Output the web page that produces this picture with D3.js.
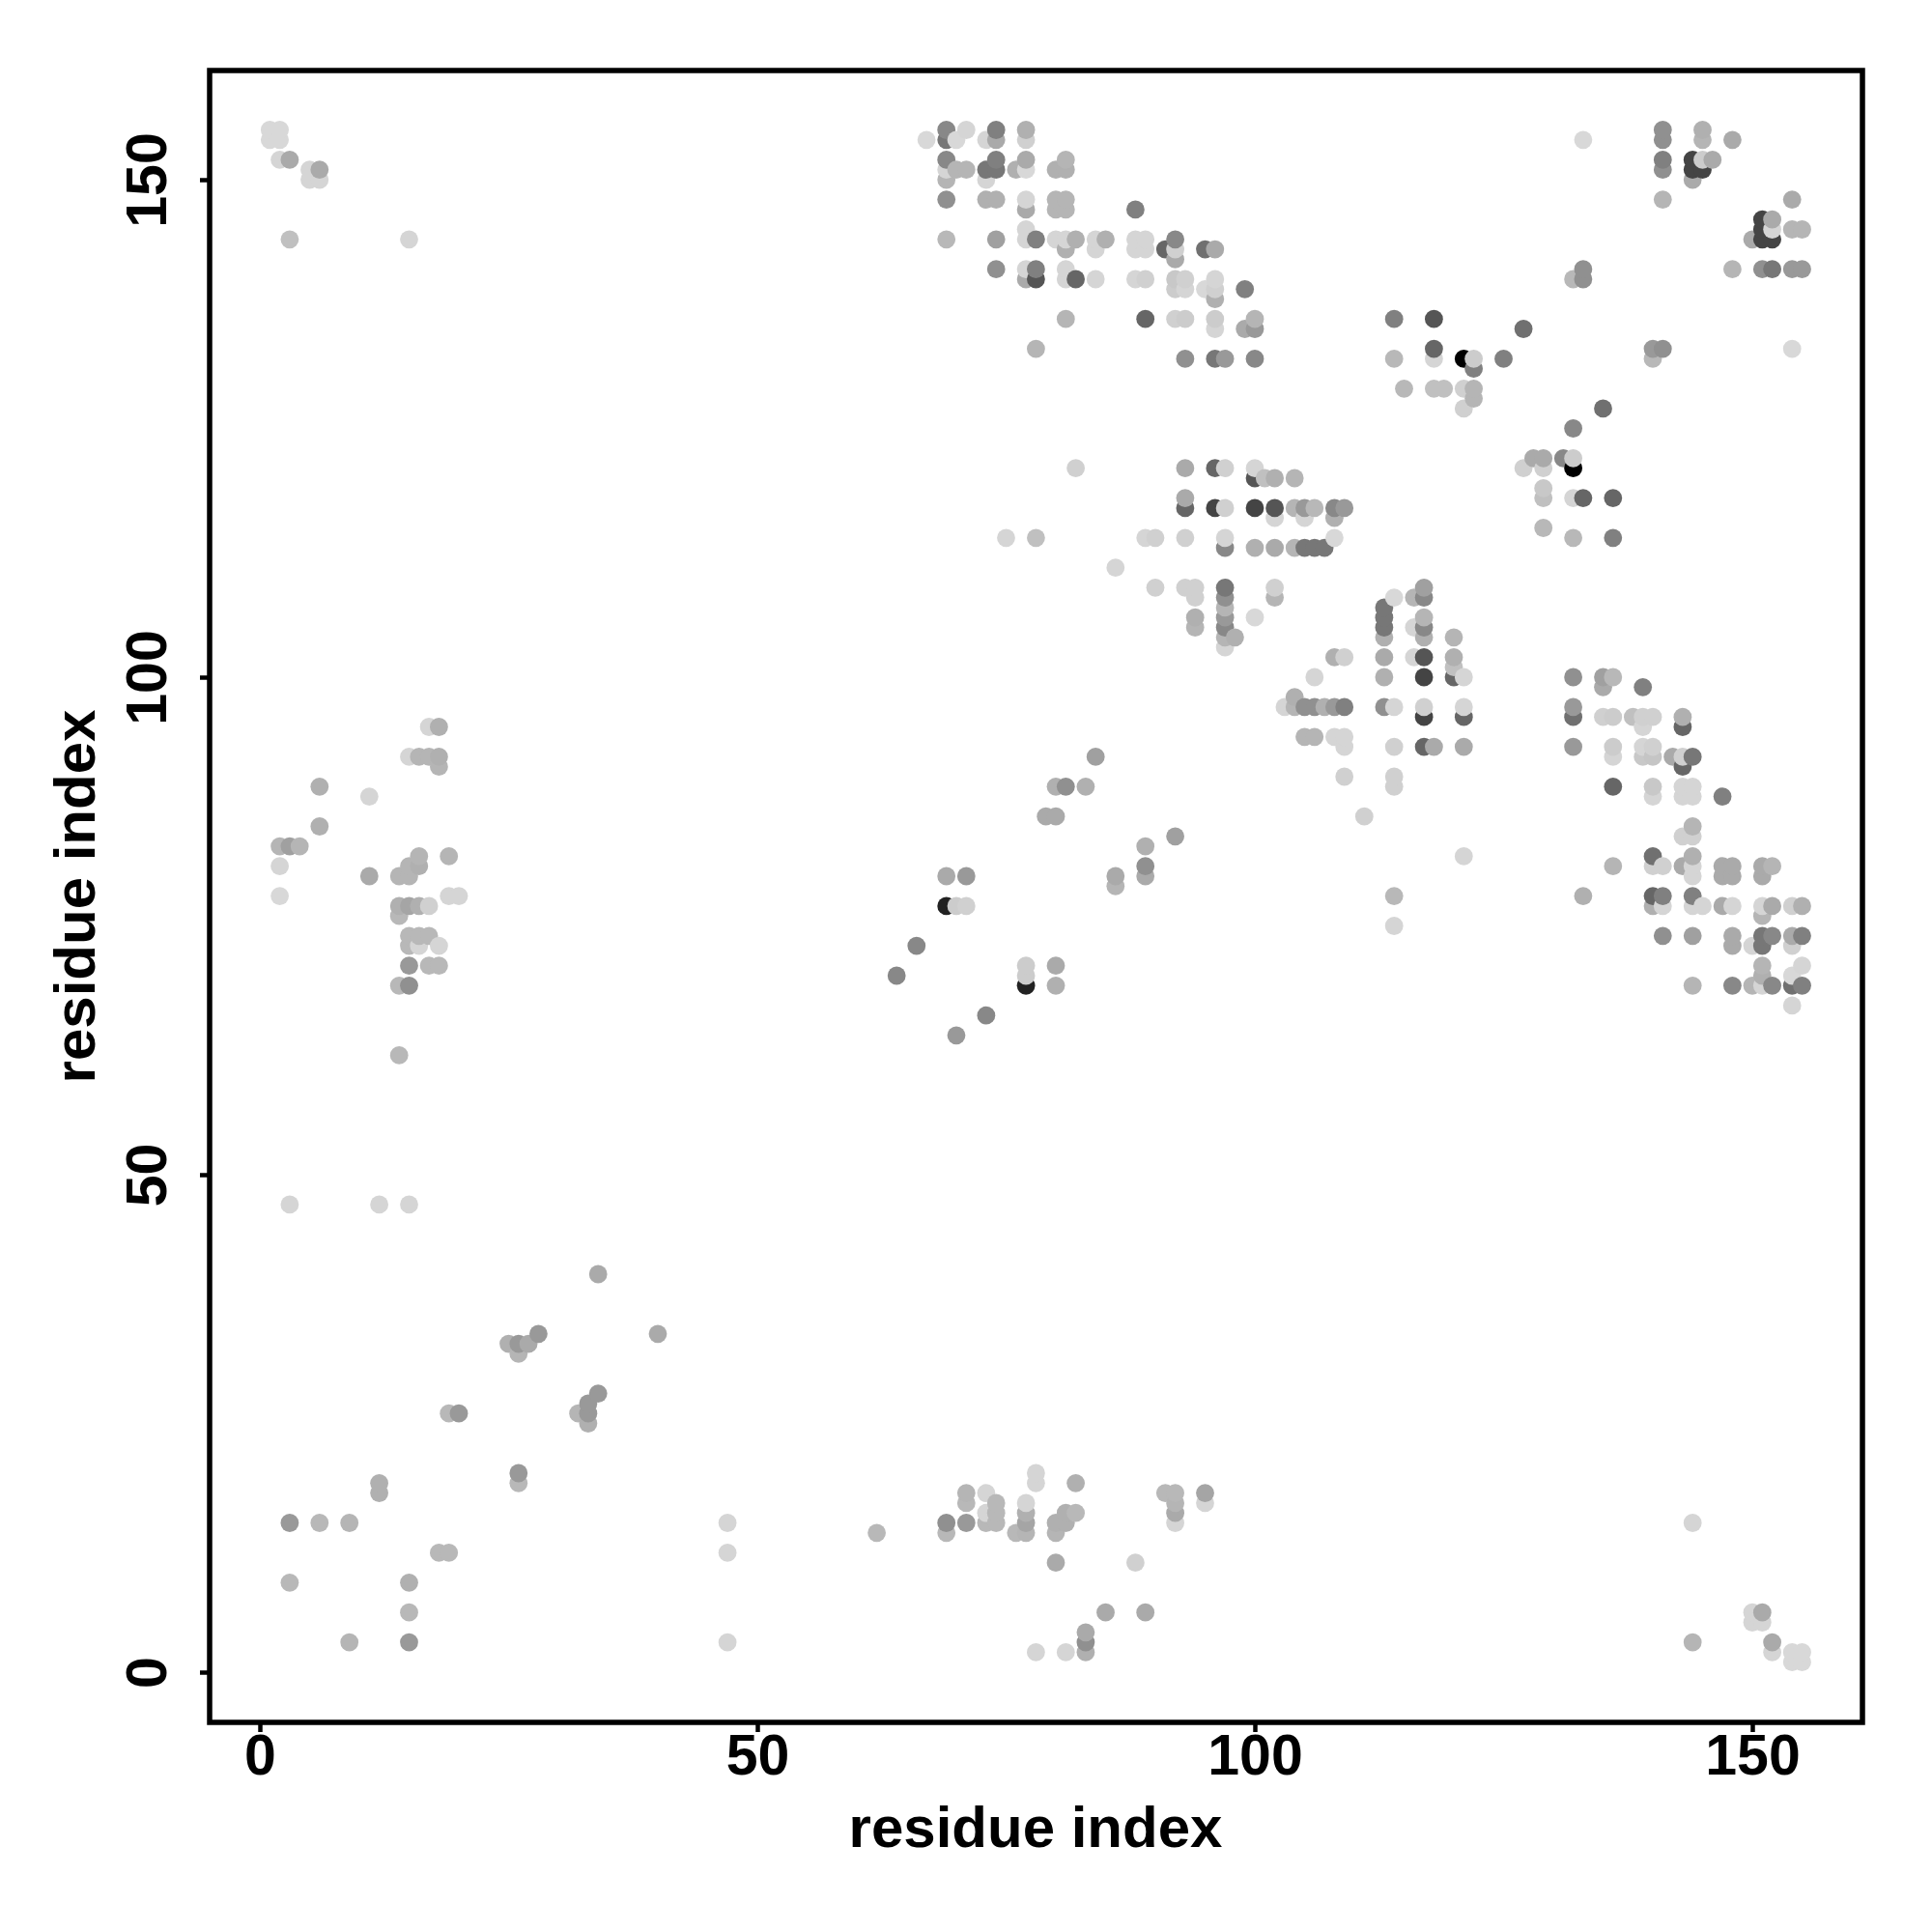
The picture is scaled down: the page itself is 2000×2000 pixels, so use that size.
<!DOCTYPE html>
<html><head><meta charset="utf-8">
<script src="https://cdn.jsdelivr.net/npm/d3@7"></script>
<style>html,body{margin:0;padding:0;background:#fff}svg{display:block}</style>
</head><body><svg id="c" width="2000" height="2000"></svg>
<script>
// each contact: [residue i, residue j, gray level]
const topMiddle = [
[69,155,0x88],[71,155,0xd5],[74,155,0x80],[77,155,0xb0],
[67,154,0xd8],[69,154,0x77],[70,154,0xd8],[73,154,0xd5],[74,154,0xaa],[77,154,0xd0],
[69,152,0x88],[74,152,0x80],[77,152,0xaa],[81,152,0xb5],
[69,151,0xd5],[70,151,0xb5],[71,151,0xb5],[73,151,0x77],[74,151,0x77],[76,151,0xb0],[77,151,0xd8],[80,151,0xb0],[81,151,0xb0],
[69,150,0xb5],[73,150,0xd5],
[69,148,0x90],[73,148,0xb0],[74,148,0xb0],[77,148,0xd5],[80,148,0xb5],[81,148,0xb5],
[77,147,0xaa],[80,147,0xb5],[81,147,0xb5],[88,147,0x80],
[77,145,0xd5],
[69,144,0xb8],[74,144,0xa0],[77,144,0xd5],[78,144,0x80],[80,144,0xd5],[81,144,0xd5],[82,144,0xb0],[84,144,0xd5],[85,144,0xb0],[88,144,0xd5],[89,144,0xd5],[92,144,0x88],
[81,143,0xb0],[84,143,0xd5],[88,143,0xd5],[89,143,0xd5],[91,143,0x66],[92,143,0xd0],[95,143,0x70],[96,143,0xaa],
[92,142,0xaa],
[74,141,0x90],[77,141,0xd5],[78,141,0x80],[81,141,0xd5],
[77,140,0xaa],[78,140,0x55],[81,140,0xd5],[82,140,0x66],[84,140,0xd5],[88,140,0xd5],[89,140,0xd0],[92,140,0xc8],[93,140,0xd0],[96,140,0xd5],
[92,139,0xcc],[93,139,0xd5],[95,139,0xd8],[96,139,0xd0],[99,139,0x80],
[96,138,0xb0],
[81,136,0xb5],[89,136,0x66],[92,136,0xd0],[93,136,0xcc],[96,136,0xcc],[100,136,0xb5],
[96,135,0xd5],[99,135,0xaa],[100,135,0x99],
[78,133,0xb5],
[93,132,0x90],[96,132,0x77],[97,132,0x99],[100,132,0x88]
];
const topRight = [
[141,155,0x90],[145,155,0xb0],
[133,154,0xd8],[141,154,0x90],[145,154,0xb5],[148,154,0xaa],
[141,152,0x80],[144,152,0x44],[145,152,0xcc],[146,152,0xaa],
[141,151,0x90],[144,151,0x44],[145,151,0x44],
[144,150,0xaa],
[141,148,0xb5],[154,148,0xaa],
[151,146,0x44],[152,146,0xaa],
[151,145,0x44],[152,145,0xd5],[154,145,0xb5],[155,145,0xb5],
[150,144,0xaa],[151,144,0x44],[152,144,0x44],
[133,141,0x90],[148,141,0xb5],[151,141,0x90],[152,141,0x77],[154,141,0x99],[155,141,0x99],
[132,140,0xb8],[133,140,0x90],
[140,133,0x99],[141,133,0x90],[154,133,0xd8],
[140,132,0xb8]
];
const midTopCluster = [
[114,136,0x80],[118,136,0x55],
[127,135,0x70],
[118,133,0x66],
[114,132,0xb8],[118,132,0xd5],[121,132,0x00],[122,132,0xcc],[125,132,0x80],
[122,131,0x80],
[115,129,0xb8],[118,129,0xc0],[119,129,0xc0],[121,129,0xd0],[122,129,0xb5],
[122,128,0xb5],
[121,127,0xd0],
[135,127,0x70],[132,125,0x88],
[128,122,0xaa],[129,122,0xaa],[131,122,0x88],[132,122,0xcc],
[127,121,0xd0],[129,121,0xd0],[132,121,0x00],
[129,119,0xc8],[129,118,0xc0],[132,118,0xd5],[133,118,0x66],[136,118,0x66],
[129,115,0xb8],[132,114,0xb8],[136,114,0x80]
];
const midBlock = [
[82,121,0xd0],
[93,121,0xaa],[96,121,0x66],[97,121,0xd0],[100,121,0xd5],
[100,120,0x55],[101,120,0xc0],[102,120,0xb0],[104,120,0xb5],
[93,118,0xaa],
[93,117,0x66],[96,117,0x44],[97,117,0xd0],[100,117,0x44],[102,117,0x55],[104,117,0xb5],[105,117,0x99],[106,117,0xb8],[108,117,0x88],[109,117,0x99],
[102,116,0xd5],[105,116,0xd5],[108,116,0xb0],
[75,114,0xd5],[78,114,0xc0],[89,114,0xd5],[90,114,0xd0],[93,114,0xd0],[97,114,0xd5],[108,114,0xd8],
[97,113,0x88],[100,113,0xb0],[102,113,0xaa],[104,113,0xb5],[105,113,0x77],[106,113,0x77],[107,113,0x77],
[86,111,0xd5],
[90,109,0xd0],[93,109,0xd0],[94,109,0xd0],[97,109,0x77],[102,109,0xd0],
[94,108,0xd0],[97,108,0x90],[102,108,0xb5],
[97,107,0xb5],
[94,106,0xb0],[97,106,0x99],[100,106,0xd8],
[94,105,0xb5],[97,105,0x88],
[97,104,0xb5],[98,104,0xb0],
[97,103,0xd5]
];
const centerBlock = [
[117,109,0xa0],
[114,108,0xd8],[116,108,0xb5],[117,108,0x88],
[113,107,0x77],[113,106,0x77],[117,106,0xb5],
[113,105,0x77],[116,105,0xd5],[117,105,0x88],
[113,104,0xb0],[117,104,0xb0],[120,104,0xb5],
[108,102,0xb0],[109,102,0xd0],[113,102,0xaa],[116,102,0xd5],[117,102,0x55],[120,102,0xb0],
[120,101,0xc0],
[106,100,0xd5],[113,100,0xb0],[117,100,0x44],[120,100,0x66],[121,100,0xd5],
[104,98,0xb0],
[103,97,0xd5],[104,97,0xb5],[105,97,0x90],[106,97,0x90],[107,97,0xb0],[108,97,0x99],[109,97,0x80],[113,97,0x90],[114,97,0xd5],[117,97,0xd0],[121,97,0xd5],
[117,96,0x44],[121,96,0x66],
[105,94,0xb5],[106,94,0xb5],[108,94,0xd5],[109,94,0xd5],
[109,93,0xd5],[114,93,0xd0],[117,93,0x66],[118,93,0xaa],[121,93,0xaa],
[109,90,0xd0],[114,90,0xd0],[114,89,0xd0],
[111,86,0xd0],[121,82,0xd5],[114,78,0xb8],[114,75,0xd5]
];
const lowerRight = [
[132,100,0x90],[135,100,0xa0],[136,100,0xb8],
[135,99,0xaa],[139,99,0x80],
[132,97,0x99],
[132,96,0x70],[135,96,0xd0],[136,96,0xcc],[138,96,0xc0],[139,96,0xd0],[140,96,0xd0],[143,96,0xb0],
[139,95,0xd5],[143,95,0x66],
[132,93,0x99],[136,93,0xcc],[139,93,0xd5],[140,93,0xd0],
[136,92,0xd5],[139,92,0xc8],[140,92,0xc5],[142,92,0xaa],[143,92,0xd0],[144,92,0x77],
[143,91,0x66],
[136,89,0x66],[140,89,0xc8],[143,89,0xd5],[144,89,0xd5],
[140,88,0xd5],[143,88,0xd5],[144,88,0xd5],[147,88,0x80],
[144,85,0xb5],
[143,84,0xd0],[144,84,0xd0],
[140,82,0x70],[144,82,0xb0],
[136,81,0xb5],[140,81,0xd0],[141,81,0xd0],[143,81,0xaa],[144,81,0xd5],[147,81,0xaa],[148,81,0xaa],[151,81,0xaa],[152,81,0xb5],
[144,80,0xd5],[147,80,0xaa],[148,80,0xaa],[151,80,0xaa],
[133,78,0xb0],[140,78,0x66],[141,78,0x80],[144,78,0x80],
[140,77,0xb0],[141,77,0xd5],[144,77,0xd5],[145,77,0xd5],[147,77,0xaa],[148,77,0xd5],[151,77,0xd5],[152,77,0xaa],[154,77,0xd0],[155,77,0xb0],
[151,76,0xb5],
[141,74,0x90],[144,74,0xa0],[148,74,0xaa],[151,74,0x77],[152,74,0x88],[154,74,0xaa],[155,74,0x80],
[148,73,0xaa],[150,73,0xd5],[151,73,0x77],[154,73,0xd0],
[151,71,0xb5],[155,71,0xd5],
[151,70,0xb0],[154,70,0xd8],
[144,69,0xb5],[148,69,0x88],[150,69,0xb5],[151,69,0xd5],[152,69,0x88],[154,69,0x70],[155,69,0x80],
[154,67,0xd5]
];
const midDiagonal = [
[84,92,0xa0],
[80,89,0xb0],[81,89,0x90],[83,89,0xb0],
[79,86,0xaa],[80,86,0xaa],
[92,84,0xa0],[89,83,0xb0],[89,81,0x90],[89,80,0xaa],
[86,80,0xaa],[86,79,0xb5],
[69,80,0xaa],[71,80,0x99],
[69,77,0x22],[70,77,0xcc],[71,77,0xd0],
[66,73,0x88],[64,70,0x88],[70,64,0x99],[73,66,0x88],
[77,71,0xcc],[77,70,0xcc],[77,69,0x22],
[80,71,0xaa],[80,69,0xb0]
];
const leftBlock = [
[17,95,0xd5],[18,95,0xb0],
[15,92,0xd5],[16,92,0xb5],[17,92,0xb5],[18,92,0xb0],[18,91,0xb5],
[6,89,0xb0],[11,88,0xd5],[6,85,0xb0],
[2,83,0xb5],[3,83,0xa0],[4,83,0xb5],
[16,82,0xb5],[19,82,0xb5],
[2,81,0xd5],[15,81,0xb5],[16,81,0xb0],
[11,80,0xaa],[14,80,0xb5],[15,80,0xb5],
[2,78,0xd8],[19,78,0xd5],[20,78,0xd5],
[14,77,0xb0],[15,77,0xa5],[16,77,0xb0],[17,77,0xd0],
[14,76,0xb8],
[15,74,0xb8],[16,74,0xb8],[17,74,0xb8],
[15,73,0xb8],[16,73,0xd5],[18,73,0xd5],
[15,71,0x99],[17,71,0xb8],[18,71,0xb8],
[14,69,0xb8],[15,69,0x90],
[14,62,0xb8],
[3,47,0xd5],[12,47,0xd5],[15,47,0xd5]
];
const topLeft = [
[1,155,0xd8],[2,155,0xd8],[1,154,0xd8],[2,154,0xd8],
[2,152,0xd5],[3,152,0xaa],
[5,151,0xd5],[6,151,0xaa],[5,150,0xd5],[6,150,0xd5],
[3,144,0xc0],[15,144,0xd5]
];
const bottomMiddle = [
[78,20,0xd5],[78,19,0xd5],[82,19,0xb0],
[71,18,0xb5],[73,18,0xd5],[91,18,0xb8],[92,18,0xb8],[95,18,0xa5],
[71,17,0xb8],[74,17,0xb8],[77,17,0xd5],[92,17,0xb5],[95,17,0xd5],
[73,16,0xd5],[74,16,0xb8],[77,16,0xb0],[81,16,0xb0],[82,16,0xb8],[92,16,0xaa],
[69,15,0x90],[71,15,0x99],[73,15,0xb8],[74,15,0xb8],[77,15,0xa5],[80,15,0xb0],[81,15,0xb0],[92,15,0xd5],
[62,14,0xb8],[69,14,0xb8],[76,14,0xb8],[77,14,0xb5],[80,14,0xb5],
[80,11,0xaa],[88,11,0xd0],
[85,6,0xaa],[89,6,0xaa],
[83,4,0xaa],[83,3,0x90],
[78,2,0xd5],[81,2,0xd5],[83,2,0xb0],
[47,15,0xd5],[47,12,0xd5],[47,3,0xd5]
];
const bottomLeft = [
[3,15,0x99],[6,15,0xb8],[9,15,0xb5],[3,9,0xb8],[9,3,0xb5],
[15,3,0x99],[15,6,0xb8],[15,9,0xb0],
[12,19,0xb0],[12,18,0xb0],[18,12,0xb8],[19,12,0xb8],
[26,20,0x99],[26,19,0xb8],[19,26,0xb8],[20,26,0x99],
[25,33,0xb0],[26,33,0x99],[27,33,0xaa],[26,32,0xb5],[28,34,0x99],
[32,26,0xb5],[33,26,0x99],[33,27,0x99],[33,25,0xb0],[34,28,0x99],
[34,40,0xaa],[40,34,0xaa]
];
const bottomRight = [
[144,15,0xd5],[144,3,0xb5],
[150,6,0xd5],[151,6,0xaa],[150,5,0xd5],[151,5,0xd5],
[152,3,0xaa],[152,2,0xd5],
[154,2,0xd8],[155,2,0xd8],[154,1,0xd8],[155,1,0xd8]
];
const xTicks = [0,50,100,150];
const yTicks = [0,50,100,150];
const axisTitle = "residue index";

const contacts = [].concat(topMiddle, topRight, midTopCluster, midBlock, centerBlock,
  lowerRight, midDiagonal, leftBlock, topLeft, bottomMiddle, bottomLeft, bottomRight)
  .sort((a,b)=>d3.ascending(a[0],b[0])||d3.ascending(a[1],b[1]));

const frame = {l:217,r:1928,t:73,b:1783};
const x = d3.scaleLinear().domain([0,150]).range([269,1814]);
const y = d3.scaleLinear().domain([0,150]).range([1731,186]);
const svg = d3.select("#c");
const font = "'Liberation Sans',Arial,sans-serif";

svg.append("g").selectAll("circle").data(contacts).join("circle")
  .attr("cx",d=>x(d[0])).attr("cy",d=>y(d[1])).attr("r",9.4)
  .attr("fill",d=>d3.rgb(d[2],d[2],d[2]).formatHex());

svg.append("rect").attr("x",frame.l).attr("y",frame.t)
  .attr("width",frame.r-frame.l).attr("height",frame.b-frame.t)
  .attr("fill","none").attr("stroke","#000").attr("stroke-width",5.5);

const gx = svg.append("g").attr("transform",`translate(0,${frame.b})`)
  .call(d3.axisBottom(x).tickValues(xTicks).tickSize(10).tickPadding(16));
const gy = svg.append("g").attr("transform",`translate(${frame.l},0)`)
  .call(d3.axisLeft(y).tickValues(yTicks).tickSize(10).tickPadding(0));
[gx,gy].forEach(g=>{
  g.select(".domain").remove();
  g.selectAll("line").attr("stroke","#000").attr("stroke-width",4.5);
  g.selectAll("text").attr("fill","#000").style("font-family",font)
    .style("font-weight","bold").style("font-size","59px");
});
gx.selectAll("text").attr("dy",null).attr("y",null)
  .attr("dominant-baseline","auto").attr("transform","translate(0,54)");
gy.selectAll("text").attr("x",null).attr("dy",null)
  .attr("text-anchor","middle")
  .attr("transform","translate(-45,0) rotate(-90)");

svg.append("text").attr("x",1072).attr("y",1912).attr("text-anchor","middle")
  .style("font-family",font).style("font-weight","bold").style("font-size","60px").text(axisTitle);
svg.append("text").attr("transform","translate(98,928) rotate(-90)").attr("text-anchor","middle")
  .style("font-family",font).style("font-weight","bold").style("font-size","60px").text(axisTitle);
</script></body></html>
